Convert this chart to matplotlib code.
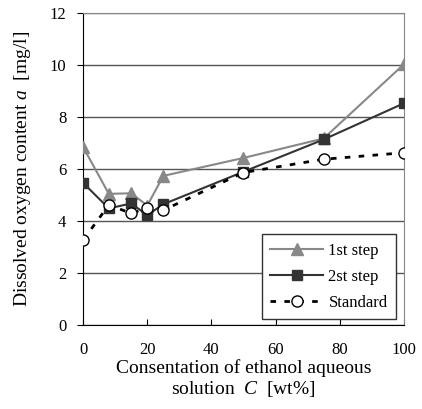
import matplotlib
matplotlib.use("Agg")
from matplotlib import pyplot as plt

plt.rcParams['font.family'] = 'Liberation Serif'
plt.rcParams['mathtext.fontset'] = 'custom'
plt.rcParams['mathtext.rm'] = 'Liberation Serif'
plt.rcParams['mathtext.it'] = 'Liberation Serif:italic'

conc = [0, 8, 15, 20, 25, 50, 75, 100]
step1 = [6.85, 5.05, 5.07, 4.6, 5.74, 6.43, 7.18, 10.03]
step2 = [5.47, 4.49, 4.68, 4.23, 4.65, 5.9, 7.14, 8.53]
standard = [3.27, 4.62, 4.3, 4.51, 4.42, 5.87, 6.38, 6.63]

fig = plt.figure(figsize=(4.22, 4.09), dpi=100)
ax = fig.add_axes([0.197, 0.205, 0.76, 0.763])

ax.plot(conc, step1, color='#888888', lw=1.5, marker='^', ms=8, label='1st step', zorder=3)
ax.plot(conc, step2, color='#333333', lw=1.5, marker='s', ms=7, label='2st step', zorder=4)
ax.plot(conc, standard, color='black', lw=2, ls=(0, (2, 3)), marker='o', ms=8,
        mfc='white', mec='black', mew=1, label='Standard', zorder=5)

ax.set_xlim(0, 100)
ax.set_ylim(0, 12)
ax.set_xticks(range(0, 101, 20))
ax.set_yticks(range(0, 13, 2))
ax.yaxis.grid(True, color='#555555', lw=1)
ax.set_axisbelow(True)
ax.spines['top'].set_color('#888888')
ax.spines['right'].set_color('#888888')
ax.tick_params(axis='x', direction='in', length=4, labelsize=12, pad=12)
ax.tick_params(axis='y', direction='out', length=4, labelsize=12, pad=8)

ax.set_ylabel(r'Dissolved oxygen content $a$  [mg/l]', fontsize=14, labelpad=12)
ax.set_xlabel('Consentation of ethanol aqueous\n' + r'solution  $C$  [wt%]', fontsize=14,
              linespacing=1.15, labelpad=1)

leg = ax.legend(loc='lower right', fontsize=12, frameon=True, fancybox=False,
                edgecolor='#333333', borderpad=0.5, labelspacing=0.6,
                handlelength=3.2, handletextpad=0.3, borderaxespad=0,
                bbox_to_anchor=(0.975, 0.02))
leg.get_frame().set_linewidth(1)
leg.get_frame().set_alpha(1)

fig.savefig('out.png', dpi=100)
